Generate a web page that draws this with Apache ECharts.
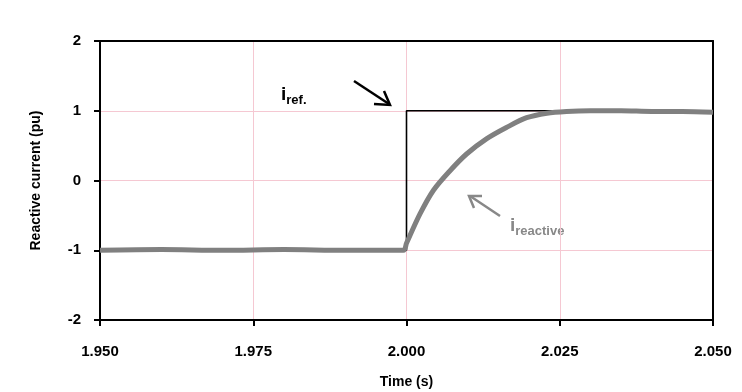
<!DOCTYPE html>
<html><head><meta charset="utf-8">
<script src="https://cdn.jsdelivr.net/npm/echarts@6/dist/echarts.min.js"></script>
<style>html,body{margin:0;padding:0;background:#fff}#c{width:742px;height:392px}</style>
</head><body><div id="c"></div>
<script>
// Reference current (step)
const refTime = [1.950, 2.000, 2.000, 2.050];
const refValue = [-1, -1, 1, 1];
// Measured reactive current (centre of the noisy trace)
const reactTime = [1.950, 1.960, 1.970, 1.980, 1.990, 1.9995, 2.0000, 2.0022, 2.0044, 2.0071, 2.0098, 2.0131, 2.0163, 2.0196, 2.0229, 2.0261, 2.030, 2.035, 2.040, 2.045, 2.050];
const reactValue = [-1.00, -0.99, -1.00, -0.99, -1.00, -1.00, -0.90, -0.48, -0.14, 0.14, 0.38, 0.60, 0.76, 0.90, 0.965, 0.99, 1.00, 1.00, 0.99, 0.99, 0.98];
const xTicks = ['1.950', '1.975', '2.000', '2.025', '2.050'];
const yTicks = ['-2', '-1', '0', '1', '2'];

const chart = echarts.init(document.getElementById('c'));
const font = 'Liberation Sans, Arial, sans-serif';
const grid = '#f5c8d2';
chart.setOption({
  animation: false,
  grid: {left: 100, right: 29, top: 41, bottom: 72, containLabel: false, outerBoundsMode: 'none'},
  xAxis: [{
    type: 'value', min: 1.950, max: 2.050, interval: 0.025,
    name: 'Time (s)', nameLocation: 'middle', nameGap: 55,
    nameTextStyle: {fontFamily: font, fontWeight: 'bold', fontSize: 14, color: '#000'},
    axisLine: {show: true, onZero: false, lineStyle: {color: '#000', width: 2}},
    axisTick: {show: true, length: 6, lineStyle: {color: '#000', width: 2}},
    axisLabel: {margin: 24, fontFamily: font, fontWeight: 'bold', fontSize: 15, color: '#000',
      formatter: v => xTicks[Math.round((v - 1.950) / 0.025)]},
    splitLine: {show: true, lineStyle: {color: grid, width: 1}}
  }, {
    type: 'value', position: 'top', min: 1.950, max: 2.050, interval: 0.025,
    axisLine: {show: true, onZero: false, lineStyle: {color: '#000', width: 2}},
    axisTick: {show: false}, axisLabel: {show: false}, splitLine: {show: false}
  }],
  yAxis: [{
    type: 'value', min: -2, max: 2, interval: 1,
    name: 'Reactive current (pu)', nameLocation: 'middle', nameGap: 57,
    nameTextStyle: {fontFamily: font, fontWeight: 'bold', fontSize: 14, color: '#000'},
    axisLine: {show: true, onZero: false, lineStyle: {color: '#000', width: 2}},
    axisTick: {show: true, length: 6, lineStyle: {color: '#000', width: 2}},
    axisLabel: {margin: 19, fontFamily: font, fontWeight: 'bold', fontSize: 15, color: '#000',
      formatter: v => yTicks[Math.round(v + 2)]},
    splitLine: {show: true, lineStyle: {color: grid, width: 1}}
  }, {
    type: 'value', position: 'right', min: -2, max: 2, interval: 1,
    axisLine: {show: true, onZero: false, lineStyle: {color: '#000', width: 2}},
    axisTick: {show: false}, axisLabel: {show: false}, splitLine: {show: false}
  }],
  series: [
    {type: 'line', data: refTime.map((t, i) => [t, refValue[i]]), symbol: 'none',
      lineStyle: {color: '#000', width: 1.6}, z: 2},
    {type: 'line', data: reactTime.map((t, i) => [t, reactValue[i]]), symbol: 'none', smooth: 0.3,
      lineStyle: {color: '#808080', width: 5}, z: 3}
  ],
  graphic: [
    {type: 'text', left: 281, top: 85, style: {rich: {
      a: {fontFamily: font, fontWeight: 'bold', fontSize: 19, fill: '#000'},
      b: {fontFamily: font, fontWeight: 'bold', fontSize: 13, fill: '#000', padding: [11, 0, 0, 0]}},
      text: '{a|i}{b|ref.}'}},
    {type: 'line', shape: {x1: 354, y1: 81, x2: 389, y2: 104}, style: {stroke: '#000', lineWidth: 2.5}},
    {type: 'polyline', shape: {points: [[374, 104], [390, 105], [384, 91]]}, style: {stroke: '#000', lineWidth: 2.5, fill: null}},
    {type: 'text', left: 510, top: 216, style: {rich: {
      a: {fontFamily: font, fontWeight: 'bold', fontSize: 19, fill: '#888'},
      b: {fontFamily: font, fontWeight: 'bold', fontSize: 13, fill: '#888', padding: [11, 0, 0, 0]}},
      text: '{a|i}{b|reactive}'}},
    {type: 'line', shape: {x1: 500, y1: 216, x2: 470, y2: 196}, style: {stroke: '#888', lineWidth: 2.5}},
    {type: 'polyline', shape: {points: [[474, 208], [469, 196], [482, 196]]}, style: {stroke: '#888', lineWidth: 2.5, fill: null}}
  ]
});
</script></body></html>
